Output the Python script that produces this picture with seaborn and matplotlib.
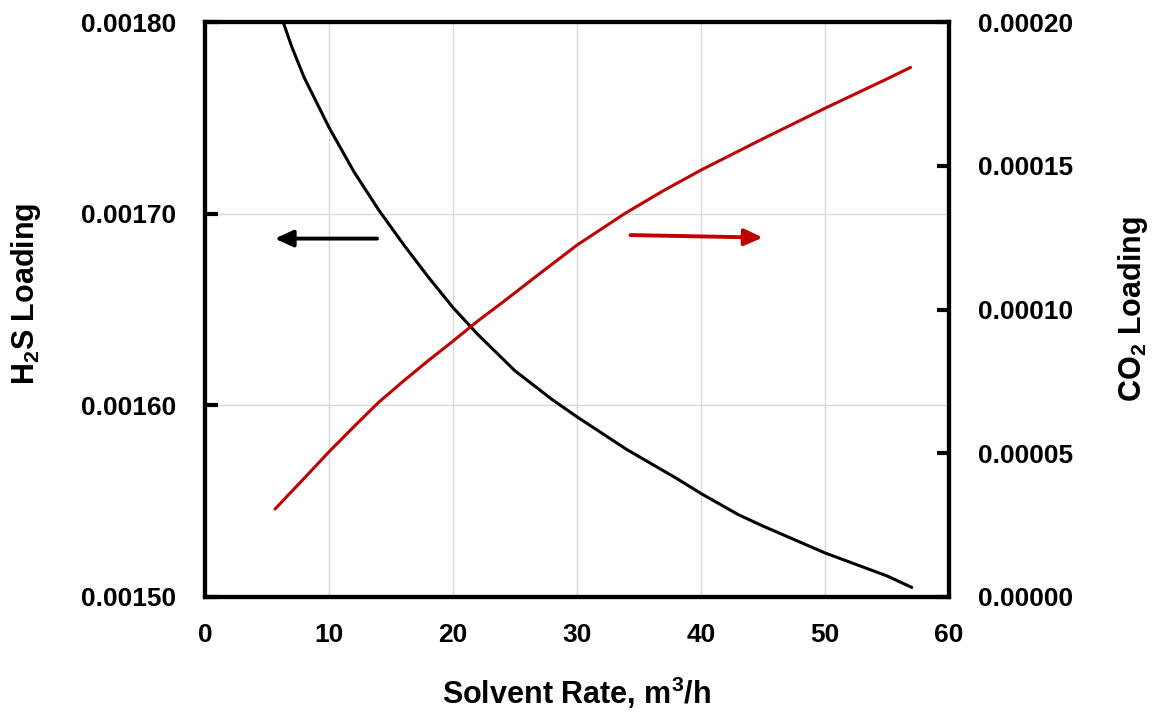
import matplotlib
matplotlib.use("Agg")
import matplotlib.pyplot as plt
import seaborn as sns
import pandas as pd

# Data
h2s_rate = [6.3, 7, 8, 10, 12, 14, 16, 18, 20, 22, 25, 28, 30, 34, 38, 40, 43, 45, 50, 55, 57]
h2s_loading = [0.001800, 0.001787, 0.001771, 0.001745, 0.001722, 0.001702, 0.001684,
               0.001667, 0.001651, 0.001637, 0.001618, 0.001603, 0.001594, 0.001577,
               0.001562, 0.001554, 0.001543, 0.001537, 0.001523, 0.001511, 0.001505]
co2_rate = [5.65, 8, 10, 12, 14, 16, 18, 20, 22, 24, 27, 30, 33.9, 37, 40, 45, 50, 55, 56.9]
co2_loading = [0.0000306, 0.0000413, 0.0000505, 0.0000592, 0.0000677, 0.0000751,
               0.0000822, 0.0000890, 0.0000960, 0.0001025, 0.0001125, 0.0001224,
               0.0001335, 0.0001414, 0.0001485, 0.0001594, 0.0001700, 0.0001802,
               0.0001842]
x_ticks = [0, 10, 20, 30, 40, 50, 60]
left_ticks = [0.00150, 0.00160, 0.00170, 0.00180]
right_ticks = [0.0, 0.00005, 0.00010, 0.00015, 0.00020]

sns.set_style("white")
plt.rcParams['font.family'] = ['Liberation Sans', 'DejaVu Sans']
plt.rcParams['font.weight'] = 'bold'
plt.rcParams['text.color'] = 'black'
plt.rcParams['axes.labelcolor'] = 'black'
plt.rcParams['xtick.color'] = 'black'
plt.rcParams['ytick.color'] = 'black'
plt.rcParams['mathtext.fontset'] = 'custom'
plt.rcParams['mathtext.rm'] = 'Liberation Sans:bold'
plt.rcParams['mathtext.bf'] = 'Liberation Sans:bold'

df_h = pd.DataFrame({"rate": h2s_rate, "load": h2s_loading})
df_c = pd.DataFrame({"rate": co2_rate, "load": co2_loading})

fig = plt.figure(figsize=(11.57, 7.17), dpi=100)
ax = fig.add_axes([205/1157, 1-597/717, (949-205)/1157, (597-22)/717])
ax2 = ax.twinx()

RED = "#C00000"
sns.lineplot(data=df_h, x="rate", y="load", ax=ax, color="black", linewidth=2.2, sort=False)
sns.lineplot(data=df_c, x="rate", y="load", ax=ax2, color=RED, linewidth=2.2, sort=False)

ax.set_xlim(0, 60)
ax.set_ylim(0.00150, 0.00180)
ax2.set_ylim(0, 0.00020)
ax.set_xticks(x_ticks)
ax.set_yticks(left_ticks)
ax2.set_yticks(right_ticks)
ax.set_xticklabels([f"{v:d}" for v in x_ticks])
ax.set_yticklabels([f"{v:.5f}" for v in left_ticks])
ax2.set_yticklabels([f"{v:.5f}" for v in right_ticks])

ax.grid(True, color="#d9d9d9", linewidth=1.0)
ax.set_axisbelow(True)
ax2.grid(False)

for a in (ax, ax2):
    for s in a.spines.values():
        s.set_linewidth(3.0)
        s.set_color("black")
    a.tick_params(direction="in", length=9, width=3.0, labelsize=19, pad=21,
                  colors="black")
ax.tick_params(axis="x", pad=19)

for lab in ax.get_xticklabels() + ax.get_yticklabels() + ax2.get_yticklabels():
    lab.set_fontweight("bold")

ax.set_xlabel(r"Solvent Rate, m$^{3}$/h", fontsize=22, fontweight="bold", labelpad=20)
ax.set_ylabel(r"H$_{2}$S Loading", fontsize=22, fontweight="bold", labelpad=27)
ax.yaxis.label.set_y(0.527)
ax2.set_ylabel(r"CO$_{2}$ Loading", fontsize=22, fontweight="bold", labelpad=31, rotation=90)

# Direction arrows
ax.annotate("", xy=(5.4, 0.001687), xytext=(14.1, 0.001687),
            arrowprops=dict(arrowstyle="-|>,head_length=1.1,head_width=0.5", color="black", lw=2.8))
ax2.annotate("", xy=(45.2, 0.0001250), xytext=(34.1, 0.0001259),
             arrowprops=dict(arrowstyle="-|>,head_length=1.1,head_width=0.5", color=RED, lw=2.8))

fig.savefig("out.png", dpi=100)
